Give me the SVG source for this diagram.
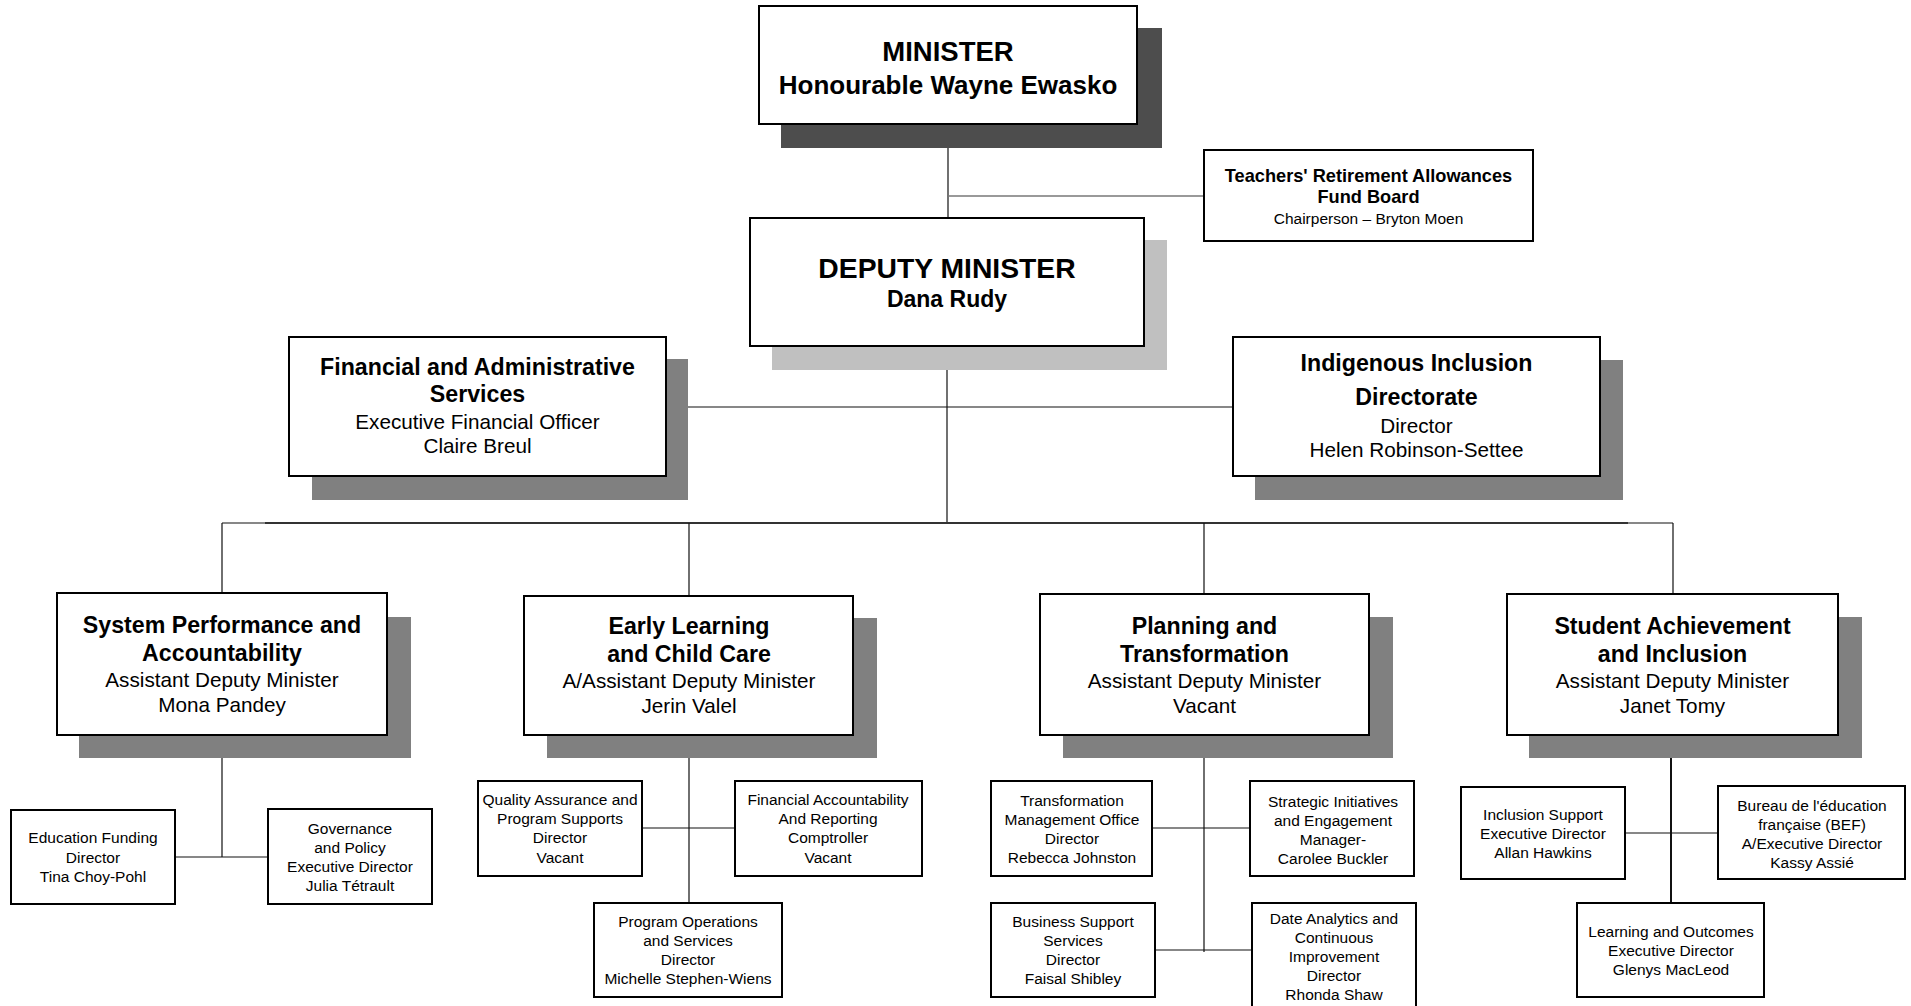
<svg xmlns="http://www.w3.org/2000/svg" width="1911" height="1006" viewBox="0 0 1911 1006">
<style>
text{font-family:"Liberation Sans",Arial,sans-serif;fill:#000;text-anchor:middle}
.box{fill:#fff;stroke:#000;stroke-width:2}
.sh{fill:#808080}
.tb{font-size:23.2px;font-weight:bold}
.tr{font-size:20.7px}
.sm{font-size:15.5px}
.ln{stroke:#111;stroke-width:1.2;fill:none}
</style>
<rect width="1911" height="1006" fill="#fff"/>
<g id="connectors">
<path class="ln" d="M948 124V218"/>
<path d="M948 196H1204" stroke="#777" stroke-width="1.5"/>
<path class="ln" d="M947 346V523"/>
<path class="ln" d="M666 407H1233"/>
<path class="ln" d="M222 523H1673"/>
<path d="M265 523H1628" stroke="#333" stroke-width="2.2"/>
<path class="ln" d="M222 523V593M689 523V596M1204 523V594M1673 523V594"/>
<path class="ln" d="M222 735V857M175 857H268"/>
<path class="ln" d="M689 735V903M642 828H735"/>
<path class="ln" d="M1204 735V952M1152 828H1250M1155 950H1252"/>
<path d="M1671 735V903" stroke="#111" stroke-width="2"/>
<path class="ln" d="M1625 833H1718"/>
</g>
<g id="minister">
<rect x="781" y="28" width="381" height="120" fill="#4d4d4d"/>
<rect class="box" x="759" y="6" width="378" height="118"/>
<text x="948" y="61" style="font-size:27.5px;font-weight:bold">MINISTER</text>
<text x="948" y="94" style="font-size:26px;font-weight:bold">Honourable Wayne Ewasko</text>
</g>
<g id="trb">
<rect class="box" x="1204" y="150" width="329" height="91"/>
<text x="1368.5" y="182" style="font-size:18.2px;font-weight:bold">Teachers' Retirement Allowances</text>
<text x="1368.5" y="203" style="font-size:18.2px;font-weight:bold">Fund Board</text>
<text x="1368.5" y="224" class="sm">Chairperson – Bryton Moen</text>
</g>
<g id="deputy">
<rect x="772" y="240" width="395" height="130" fill="#c0c0c0"/>
<rect class="box" x="750" y="218" width="394" height="128"/>
<text x="947" y="278" style="font-size:28.3px;font-weight:bold">DEPUTY MINISTER</text>
<text x="947" y="307" style="font-size:23px;font-weight:bold">Dana Rudy</text>
</g>
<g id="fas">
<rect class="sh" x="312" y="359" width="376" height="141"/>
<rect class="box" x="289" y="337" width="377" height="139"/>
<text x="477.5" y="375" class="tb">Financial and Administrative</text>
<text x="477.5" y="402" class="tb">Services</text>
<text x="477.5" y="429" class="tr">Executive Financial Officer</text>
<text x="477.5" y="453" class="tr">Claire Breul</text>
</g>
<g id="iid">
<rect class="sh" x="1255" y="360" width="368" height="140"/>
<rect class="box" x="1233" y="337" width="367" height="139"/>
<text x="1416.5" y="371" class="tb">Indigenous Inclusion</text>
<text x="1416.5" y="405" class="tb">Directorate</text>
<text x="1416.5" y="433" class="tr">Director</text>
<text x="1416.5" y="457" class="tr">Helen Robinson-Settee</text>
</g>
<g id="spa">
<rect class="sh" x="79" y="617" width="332" height="141"/>
<rect class="box" x="57" y="593" width="330" height="142"/>
<text x="222" y="633" class="tb">System Performance and</text>
<text x="222" y="661" class="tb">Accountability</text>
<text x="222" y="687" class="tr">Assistant Deputy Minister</text>
<text x="222" y="712" class="tr">Mona Pandey</text>
</g>
<g id="elcc">
<rect class="sh" x="547" y="618" width="330" height="140"/>
<rect class="box" x="524" y="596" width="329" height="139"/>
<text x="689" y="634" class="tb">Early Learning</text>
<text x="689" y="662" class="tb">and Child Care</text>
<text x="689" y="688" class="tr">A/Assistant Deputy Minister</text>
<text x="689" y="713" class="tr">Jerin Valel</text>
</g>
<g id="pt">
<rect class="sh" x="1063" y="617" width="330" height="141"/>
<rect class="box" x="1040" y="594" width="329" height="141"/>
<text x="1204.5" y="634" class="tb">Planning and</text>
<text x="1204.5" y="662" class="tb">Transformation</text>
<text x="1204.5" y="688" class="tr">Assistant Deputy Minister</text>
<text x="1204.5" y="713" class="tr">Vacant</text>
</g>
<g id="sai">
<rect class="sh" x="1529" y="617" width="333" height="141"/>
<rect class="box" x="1507" y="594" width="331" height="141"/>
<text x="1672.5" y="634" class="tb">Student Achievement</text>
<text x="1672.5" y="662" class="tb">and Inclusion</text>
<text x="1672.5" y="688" class="tr">Assistant Deputy Minister</text>
<text x="1672.5" y="713" class="tr">Janet Tomy</text>
</g>
<g id="ef">
<rect class="box" x="11" y="810" width="164" height="94"/>
<text x="93" y="843" class="sm">Education Funding</text>
<text x="93" y="863" class="sm">Director</text>
<text x="93" y="882" class="sm">Tina Choy-Pohl</text>
</g>
<g id="gp">
<rect class="box" x="268" y="809" width="164" height="95"/>
<text x="350" y="834" class="sm">Governance</text>
<text x="350" y="853" class="sm">and Policy</text>
<text x="350" y="872" class="sm">Executive Director</text>
<text x="350" y="891" class="sm">Julia Tétrault</text>
</g>
<g id="qa">
<rect class="box" x="478" y="781" width="164" height="95"/>
<text x="560" y="805" class="sm">Quality Assurance and</text>
<text x="560" y="824" class="sm">Program Supports</text>
<text x="560" y="843" class="sm">Director</text>
<text x="560" y="863" class="sm">Vacant</text>
</g>
<g id="far">
<rect class="box" x="735" y="781" width="187" height="95"/>
<text x="828" y="805" class="sm">Financial Accountability</text>
<text x="828" y="824" class="sm">And Reporting</text>
<text x="828" y="843" class="sm">Comptroller</text>
<text x="828" y="863" class="sm">Vacant</text>
</g>
<g id="po">
<rect class="box" x="594" y="903" width="188" height="94"/>
<text x="688" y="927" class="sm">Program Operations</text>
<text x="688" y="946" class="sm">and Services</text>
<text x="688" y="965" class="sm">Director</text>
<text x="688" y="984" class="sm">Michelle Stephen-Wiens</text>
</g>
<g id="tmo">
<rect class="box" x="991" y="781" width="161" height="95"/>
<text x="1072" y="806" class="sm">Transformation</text>
<text x="1072" y="825" class="sm">Management Office</text>
<text x="1072" y="844" class="sm">Director</text>
<text x="1072" y="863" class="sm">Rebecca Johnston</text>
</g>
<g id="sie">
<rect class="box" x="1250" y="781" width="164" height="95"/>
<text x="1333" y="807" class="sm">Strategic Initiatives</text>
<text x="1333" y="826" class="sm">and Engagement</text>
<text x="1333" y="845" class="sm">Manager-</text>
<text x="1333" y="864" class="sm">Carolee Buckler</text>
</g>
<g id="bss">
<rect class="box" x="991" y="903" width="164" height="94"/>
<text x="1073" y="927" class="sm">Business Support</text>
<text x="1073" y="946" class="sm">Services</text>
<text x="1073" y="965" class="sm">Director</text>
<text x="1073" y="984" class="sm">Faisal Shibley</text>
</g>
<g id="daci">
<rect class="box" x="1252" y="903" width="164" height="110"/>
<text x="1334" y="924" class="sm">Date Analytics and</text>
<text x="1334" y="943" class="sm">Continuous</text>
<text x="1334" y="962" class="sm">Improvement</text>
<text x="1334" y="981" class="sm">Director</text>
<text x="1334" y="1000" class="sm">Rhonda Shaw</text>
</g>
<g id="is">
<rect class="box" x="1461" y="787" width="164" height="92"/>
<text x="1543" y="820" class="sm">Inclusion Support</text>
<text x="1543" y="839" class="sm">Executive Director</text>
<text x="1543" y="858" class="sm">Allan Hawkins</text>
</g>
<g id="bef">
<rect class="box" x="1718" y="786" width="187" height="93"/>
<text x="1812" y="811" class="sm">Bureau de l'éducation</text>
<text x="1812" y="830" class="sm">française (BEF)</text>
<text x="1812" y="849" class="sm">A/Executive Director</text>
<text x="1812" y="868" class="sm">Kassy Assié</text>
</g>
<g id="lo">
<rect class="box" x="1577" y="903" width="187" height="94"/>
<text x="1671" y="937" class="sm">Learning and Outcomes</text>
<text x="1671" y="956" class="sm">Executive Director</text>
<text x="1671" y="975" class="sm">Glenys MacLeod</text>
</g>
</svg>
